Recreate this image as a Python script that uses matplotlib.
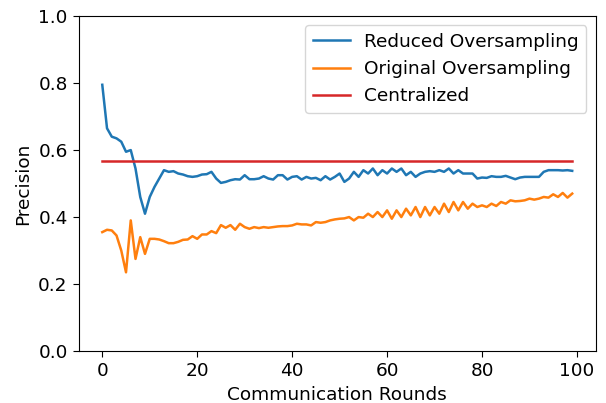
import numpy as np
import matplotlib
matplotlib.use("Agg")
import matplotlib.pyplot as plt

rounds = np.arange(100)

# precision per communication round
reduced = [
    0.795, 0.665, 0.640, 0.635, 0.625, 0.595, 0.600, 0.545, 0.460, 0.410,
    0.460, 0.490, 0.515, 0.540, 0.535, 0.537, 0.530, 0.527, 0.522, 0.520,
    0.522, 0.527, 0.528, 0.535, 0.515, 0.502, 0.505, 0.510, 0.513, 0.512,
    0.525, 0.513, 0.513, 0.515, 0.522, 0.515, 0.512, 0.525, 0.525, 0.512,
    0.520, 0.522, 0.512, 0.520, 0.515, 0.517, 0.510, 0.522, 0.512, 0.520,
    0.530, 0.505, 0.515, 0.535, 0.520, 0.540, 0.530, 0.545, 0.525, 0.540,
    0.530, 0.545, 0.535, 0.545, 0.525, 0.535, 0.520, 0.530, 0.535, 0.537,
    0.535, 0.540, 0.535, 0.545, 0.530, 0.540, 0.530, 0.530, 0.530, 0.515,
    0.518, 0.517, 0.522, 0.520, 0.520, 0.523, 0.518, 0.513, 0.518, 0.520,
    0.520, 0.520, 0.520, 0.535, 0.540, 0.540, 0.540, 0.539, 0.540, 0.538,
]
original = [
    0.355, 0.362, 0.360, 0.345, 0.300, 0.235, 0.390, 0.275, 0.340, 0.290,
    0.335, 0.335, 0.333, 0.328, 0.322, 0.322, 0.326, 0.332, 0.333, 0.343,
    0.335, 0.348, 0.348, 0.358, 0.352, 0.376, 0.368, 0.376, 0.362, 0.380,
    0.370, 0.365, 0.370, 0.367, 0.370, 0.368, 0.370, 0.372, 0.373, 0.373,
    0.375, 0.380, 0.378, 0.378, 0.375, 0.385, 0.383, 0.385, 0.390, 0.393,
    0.395, 0.396, 0.400, 0.390, 0.400, 0.398, 0.410, 0.400, 0.415, 0.400,
    0.420, 0.395, 0.420, 0.400, 0.425, 0.405, 0.430, 0.400, 0.430, 0.405,
    0.430, 0.410, 0.440, 0.415, 0.445, 0.420, 0.445, 0.425, 0.440, 0.430,
    0.435, 0.430, 0.440, 0.433, 0.445, 0.440, 0.450, 0.447, 0.448, 0.450,
    0.455, 0.452, 0.455, 0.460, 0.458, 0.468, 0.460, 0.472, 0.458, 0.470,
]
centralized = 0.568

plt.rcParams["font.size"] = 13.3
plt.rcParams["xtick.major.size"] = 4.5
plt.rcParams["ytick.major.size"] = 4.5

fig, ax = plt.subplots(figsize=(6.06, 4.03), dpi=100)
fig.subplots_adjust(left=0.130, right=0.983, top=0.960, bottom=0.129)

ax.plot(rounds, reduced, color="#1f77b4", lw=1.8, label="Reduced Oversampling")
ax.plot(rounds, original, color="#ff7f0e", lw=1.8, label="Original Oversampling")
ax.plot(rounds, [centralized] * len(rounds), color="#d62728", lw=1.8, label="Centralized")

ax.set_ylim(0, 1.0)
ax.set_xticks([0, 20, 40, 60, 80, 100])
ax.set_xlabel("Communication Rounds")
ax.set_ylabel("Precision")
ax.legend(loc="upper right")

plt.savefig("out.png")
